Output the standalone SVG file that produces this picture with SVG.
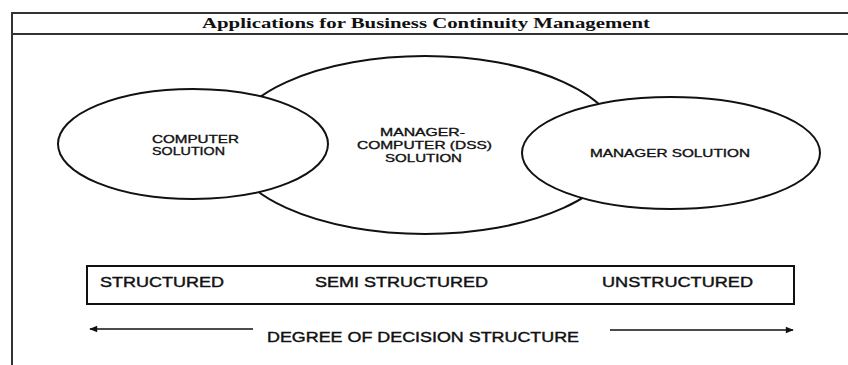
<svg xmlns="http://www.w3.org/2000/svg" width="848" height="365" viewBox="0 0 848 365">
<style>
.frame{fill:none;stroke:#333;stroke-width:2}
.ell{fill:#fff;stroke:#111;stroke-width:2}
.lbl{font-family:"Liberation Sans",Arial,sans-serif;font-size:11px;fill:#111;stroke:#111;stroke-width:0.35}
.big{font-family:"Liberation Sans",Arial,sans-serif;font-size:14px;fill:#111;stroke:#111;stroke-width:0.4}
.title{font-family:"Liberation Serif","Times New Roman",serif;font-size:14px;font-weight:bold;fill:#111}
.conn{stroke:#111;stroke-width:1.5;fill:none}
</style>
<defs>
<marker id="ah" viewBox="0 0 10 10" refX="9" refY="5" markerWidth="9" markerHeight="8" markerUnits="userSpaceOnUse" orient="auto-start-reverse">
<path d="M0,1 L10,5 L0,9 Z" fill="#111"/>
</marker>
</defs>
<g id="frame">
<path class="frame" d="M860,13 H12 V370 M12,34 H860"/>
<text class="title" x="202" y="28" textLength="448" lengthAdjust="spacingAndGlyphs">Applications for Business Continuity Management</text>
</g>
<g id="node-dss">
<ellipse class="ell" cx="425" cy="145" rx="196" ry="89"/>
<text class="lbl" x="380" y="136" textLength="85" lengthAdjust="spacingAndGlyphs">MANAGER-</text>
<text class="lbl" x="357" y="149" textLength="135" lengthAdjust="spacingAndGlyphs">COMPUTER (DSS)</text>
<text class="lbl" x="385" y="162" textLength="77" lengthAdjust="spacingAndGlyphs">SOLUTION</text>
</g>
<g id="node-computer">
<ellipse class="ell" cx="193" cy="144" rx="135" ry="55"/>
<text class="lbl" x="152" y="143" textLength="87" lengthAdjust="spacingAndGlyphs">COMPUTER</text>
<text class="lbl" x="152" y="155" textLength="73" lengthAdjust="spacingAndGlyphs">SOLUTION</text>
</g>
<g id="node-manager">
<ellipse class="ell" cx="671" cy="153" rx="149" ry="56"/>
<text class="lbl" x="590" y="157" textLength="160" lengthAdjust="spacingAndGlyphs">MANAGER SOLUTION</text>
</g>
<g id="node-scale">
<rect x="87" y="266" width="707" height="38" fill="none" stroke="#111" stroke-width="2"/>
<text class="big" x="100" y="287" textLength="124" lengthAdjust="spacingAndGlyphs">STRUCTURED</text>
<text class="big" x="315" y="287" textLength="173" lengthAdjust="spacingAndGlyphs">SEMI STRUCTURED</text>
<text class="big" x="602" y="287" textLength="151" lengthAdjust="spacingAndGlyphs">UNSTRUCTURED</text>
</g>
<g id="connectors">
<line class="conn" x1="253" y1="329" x2="90" y2="329" marker-end="url(#ah)"/>
<line class="conn" x1="610" y1="330" x2="793" y2="330" marker-end="url(#ah)"/>
</g>
<g id="label-degree">
<text class="big" x="267" y="342" textLength="312" lengthAdjust="spacingAndGlyphs">DEGREE OF DECISION STRUCTURE</text>
</g>
</svg>
